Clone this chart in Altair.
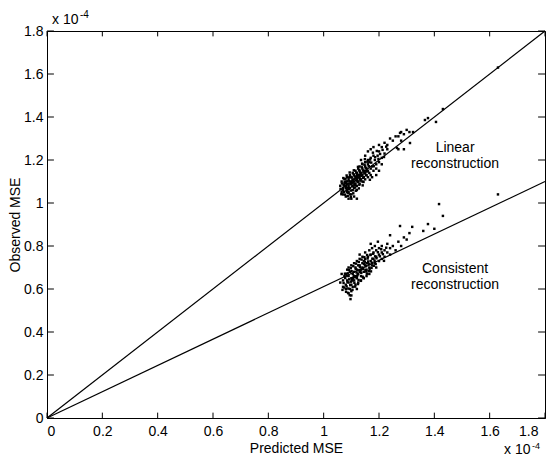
import altair as alt
import pandas as pd

# values in units of 1e-4
lin_pts = [(1.07,1.06),(1.08,1.07),(1.075,1.09),(1.09,1.08),(1.08,1.10),(1.10,1.09),(1.09,1.11),(1.085,1.05),(1.10,1.12),(1.11,1.10),
 (1.095,1.07),(1.105,1.06),(1.11,1.13),(1.12,1.11),(1.115,1.09),(1.12,1.14),(1.13,1.12),(1.125,1.10),(1.13,1.15),(1.14,1.13),
 (1.135,1.11),(1.14,1.16),(1.15,1.14),(1.145,1.12),(1.15,1.17),(1.16,1.15),(1.155,1.13),(1.16,1.18),(1.17,1.16),(1.165,1.19),
 (1.07,1.04),(1.08,1.03),(1.09,1.05),(1.10,1.04),(1.075,1.08),(1.085,1.12),(1.095,1.13),(1.105,1.14),(1.115,1.15),(1.125,1.16),
 (1.10,1.10),(1.11,1.11),(1.12,1.12),(1.13,1.13),(1.105,1.08),(1.115,1.12),(1.125,1.13),(1.135,1.14),(1.09,1.09),(1.08,1.08),
 (1.07,1.07),(1.065,1.05),(1.06,1.08),(1.065,1.10),(1.075,1.11),(1.085,1.06),(1.095,1.04),(1.10,1.02),(1.12,1.08),(1.13,1.09),
 (1.14,1.10),(1.15,1.11),(1.16,1.12),(1.17,1.13),(1.175,1.17),(1.18,1.15),(1.185,1.20),(1.19,1.18),(1.18,1.22),(1.20,1.19),
 (1.195,1.22),(1.21,1.21),(1.20,1.24),(1.22,1.23),(1.19,1.16),(1.17,1.21),(1.16,1.20),(1.15,1.19),(1.14,1.18),(1.13,1.17),
 (1.12,1.06),(1.11,1.07),(1.145,1.15),(1.155,1.16),(1.165,1.14),(1.175,1.12),(1.135,1.20),(1.15,1.22),(1.16,1.24),(1.17,1.25),
 (1.18,1.26),(1.20,1.27),(1.21,1.26),(1.22,1.28),(1.23,1.27),(1.24,1.30),(1.25,1.29),(1.23,1.25),(1.21,1.18),(1.20,1.15),
 (1.19,1.13),(1.26,1.31),(1.27,1.31),(1.28,1.33),(1.29,1.32),(1.30,1.34),(1.31,1.33),(1.28,1.29),(1.29,1.25),(1.27,1.25),
 (1.366,1.386),(1.377,1.395),(1.406,1.377),(1.431,1.437),(1.276,1.326),(1.323,1.33),(1.312,1.279),(1.265,1.256),
 (1.63,1.63),(1.09,1.02),(1.11,1.03),(1.12,1.02),
 (1.072,1.083),(1.081,1.094),(1.088,1.071),(1.093,1.102),(1.097,1.087),(1.102,1.118),(1.106,1.096),(1.112,1.124),(1.117,1.105),
 (1.121,1.131),(1.126,1.118),(1.131,1.142),(1.137,1.126),(1.142,1.151),(1.147,1.138),(1.152,1.163),(1.158,1.147),(1.163,1.171),
 (1.068,1.062),(1.074,1.052),(1.079,1.113),(1.084,1.087),(1.091,1.064),(1.096,1.123),(1.103,1.077),(1.108,1.134),(1.113,1.083),
 (1.118,1.141),(1.123,1.097),(1.128,1.153),(1.133,1.104),(1.138,1.166),(1.143,1.117),(1.148,1.178),(1.153,1.129),(1.158,1.192),
 (1.066,1.091),(1.071,1.116),(1.077,1.039),(1.083,1.128),(1.089,1.047),(1.094,1.142),(1.099,1.058),(1.104,1.106),(1.109,1.152),
 (1.114,1.072),(1.119,1.118),(1.124,1.168),(1.129,1.085),(1.134,1.131),(1.139,1.183),(1.144,1.098),(1.149,1.204),(1.154,1.148),
 (1.061,1.066),(1.064,1.041),(1.087,1.033),(1.098,1.028),(1.107,1.045),(1.116,1.057),(1.127,1.068),(1.141,1.082),(1.168,1.202),
 (1.172,1.188),(1.178,1.234),(1.186,1.213),(1.192,1.242),(1.198,1.205),(1.204,1.228),(1.213,1.247),(1.218,1.214),(1.226,1.262),
 (1.167,1.108),(1.181,1.171),(1.076,1.097),(1.082,1.058),(1.101,1.092),(1.111,1.089),(1.122,1.104),(1.132,1.111),(1.092,1.119),
 (1.086,1.101)]

con_pts = [(1.08,0.62),(1.085,0.64),(1.09,0.63),(1.09,0.66),(1.10,0.65),(1.10,0.62),(1.095,0.60),(1.105,0.67),(1.11,0.64),(1.11,0.68),
 (1.115,0.66),(1.12,0.65),(1.12,0.69),(1.125,0.67),(1.13,0.68),(1.13,0.71),(1.135,0.66),(1.14,0.70),(1.14,0.72),(1.145,0.68),
 (1.15,0.71),(1.15,0.74),(1.155,0.69),(1.16,0.72),(1.16,0.75),(1.165,0.70),(1.17,0.73),(1.17,0.76),(1.175,0.71),(1.18,0.74),
 (1.18,0.77),(1.185,0.72),(1.19,0.75),(1.19,0.78),(1.20,0.76),(1.20,0.73),(1.21,0.77),(1.21,0.74),(1.22,0.78),(1.22,0.75),
 (1.075,0.66),(1.07,0.64),(1.08,0.67),(1.085,0.69),(1.09,0.70),(1.10,0.71),(1.11,0.72),(1.12,0.73),(1.13,0.74),(1.14,0.75),
 (1.105,0.61),(1.115,0.62),(1.125,0.63),(1.135,0.64),(1.145,0.65),(1.155,0.66),(1.165,0.67),(1.09,0.58),(1.10,0.59),(1.08,0.60),
 (1.07,0.61),(1.095,0.68),(1.105,0.64),(1.115,0.70),(1.125,0.71),(1.135,0.69),(1.145,0.73),(1.155,0.72),(1.165,0.78),(1.175,0.79),
 (1.185,0.80),(1.19,0.70),(1.20,0.79),(1.21,0.80),(1.23,0.77),(1.23,0.81),(1.24,0.79),(1.25,0.80),(1.24,0.76),(1.26,0.78),
 (1.24,0.85),(1.27,0.82),(1.28,0.80),(1.276,0.893),(1.29,0.84),(1.30,0.83),(1.31,0.86),(1.32,0.889),(1.196,0.82),(1.36,0.87),
 (1.377,0.902),(1.40,0.88),(1.431,0.94),(1.417,0.995),(1.63,1.04),(1.13,0.76),(1.15,0.77),(1.17,0.81),(1.10,0.57),
 (1.12,0.60),(1.06,0.63),(1.065,0.67),
 (1.072,0.628),(1.078,0.651),(1.083,0.612),(1.087,0.673),(1.092,0.645),(1.096,0.618),(1.101,0.683),(1.106,0.652),(1.111,0.629),
 (1.116,0.694),(1.121,0.661),(1.126,0.642),(1.131,0.703),(1.136,0.675),(1.141,0.657),(1.146,0.716),(1.151,0.688),(1.156,0.671),
 (1.161,0.728),(1.166,0.694),(1.171,0.682),(1.176,0.741),(1.181,0.708),(1.186,0.752),(1.068,0.596),(1.074,0.607),(1.081,0.587),
 (1.089,0.602),(1.094,0.571),(1.099,0.634),(1.104,0.596),(1.109,0.661),(1.114,0.611),(1.119,0.677),(1.124,0.623),(1.129,0.688),
 (1.134,0.638),(1.139,0.694),(1.144,0.652),(1.149,0.727),(1.154,0.681),(1.159,0.742),(1.164,0.715),(1.169,0.758),(1.174,0.722),
 (1.179,0.764),(1.184,0.731),(1.191,0.743),(1.196,0.771),(1.203,0.752),(1.208,0.785),(1.214,0.762),(1.218,0.731),(1.226,0.792),
 (1.077,0.671),(1.084,0.662),(1.091,0.688),(1.098,0.697),(1.107,0.706),(1.117,0.718),(1.127,0.726),(1.137,0.737),(1.147,0.748),
 (1.157,0.758),(1.086,0.632),(1.102,0.641),(1.113,0.655),(1.123,0.668),(1.133,0.682),(1.143,0.694),(1.153,0.706),(1.163,0.683),
 (1.173,0.698),(1.188,0.716),(1.097,0.553),(1.088,0.582)]

line_x = [0, 1.8]
linear_line_y = [0, 1.8]
consistent_line_y = [0, 1.1]

tick_vals = [0, 0.2, 0.4, 0.6, 0.8, 1.0, 1.2, 1.4, 1.6, 1.8]

labels = [
    {"x": 1.475, "y": 1.258, "t": "Linear"},
    {"x": 1.475, "y": 1.183, "t": "reconstruction"},
    {"x": 1.475, "y": 0.695, "t": "Consistent"},
    {"x": 1.475, "y": 0.620, "t": "reconstruction"},
]

FONT = "Liberation Sans"
xs = alt.Scale(domain=[0, 1.8], nice=False, zero=False)
ys = alt.Scale(domain=[0, 1.8], nice=False, zero=False)

pts = pd.DataFrame([{"x": a, "y": b} for a, b in lin_pts + con_pts])
lines = pd.DataFrame(
    [{"x": line_x[i], "y": linear_line_y[i], "s": "lin"} for i in range(2)]
    + [{"x": line_x[i], "y": consistent_line_y[i], "s": "con"} for i in range(2)]
)

lab_expr = "datum.value == 1 ? '1' : datum.value == 0 ? '0' : format(datum.value, '.1f')"
xaxis = alt.Axis(values=tick_vals, labelExpr=lab_expr, ticks=False, grid=False, labelPadding=6,
                 labelOffset=alt.condition("datum.value > 1.75", alt.value(-7), alt.value(0)),
                 title="Predicted MSE", titlePadding=3)
yaxis = alt.Axis(values=tick_vals, labelExpr=lab_expr, ticks=False, grid=False, labelPadding=4,
                 title="Observed MSE", titlePadding=1)

line_layer = alt.Chart(lines).mark_line(color="black", strokeWidth=1.2).encode(
    x=alt.X("x:Q", scale=xs, axis=xaxis), y=alt.Y("y:Q", scale=ys, axis=yaxis), detail="s:N")

pt_layer = alt.Chart(pts).mark_square(color="black", size=6, opacity=1).encode(
    x=alt.X("x:Q", scale=xs), y=alt.Y("y:Q", scale=ys))

tl = 0.025
tk = pd.DataFrame({"v": tick_vals})
tick_b = alt.Chart(tk).mark_rule(color="black", strokeWidth=1).encode(
    x=alt.X("v:Q", scale=xs), y=alt.datum(0, scale=ys), y2=alt.datum(tl))
tick_t = alt.Chart(tk).mark_rule(color="black", strokeWidth=1).encode(
    x=alt.X("v:Q", scale=xs), y=alt.datum(1.8 - tl, scale=ys), y2=alt.datum(1.8))
tick_l = alt.Chart(tk).mark_rule(color="black", strokeWidth=1).encode(
    y=alt.Y("v:Q", scale=ys), x=alt.datum(0, scale=xs), x2=alt.datum(tl))
tick_r = alt.Chart(tk).mark_rule(color="black", strokeWidth=1).encode(
    y=alt.Y("v:Q", scale=ys), x=alt.datum(1.8 - tl, scale=xs), x2=alt.datum(1.8))

lab_layer = alt.Chart(pd.DataFrame(labels)).mark_text(font=FONT, fontSize=14, color="black", align="center", baseline="middle").encode(
    x=alt.X("x:Q", scale=xs), y=alt.Y("y:Q", scale=ys), text="t:N")

ann = pd.DataFrame([{"k": 1}])
def expo(xp, yp, sup=10, dy=6):
    a = alt.Chart(ann).mark_text(font=FONT, fontSize=14, color="black", align="left", baseline="alphabetic", text="x 10").encode(
        x=alt.value(xp), y=alt.value(yp))
    b = alt.Chart(ann).mark_text(font=FONT, fontSize=sup, color="black", align="left", baseline="alphabetic", text="-4").encode(
        x=alt.value(xp + 28), y=alt.value(yp - dy))
    return a + b

chart = alt.layer(line_layer, pt_layer, tick_b, tick_t, tick_l, tick_r, lab_layer,
                  expo(5, -7), expo(457, 387 + 36, sup=9, dy=5)).properties(
    width=498, height=387,
    autosize=alt.AutoSizeParams(type="none"),
    padding={"left": 39, "top": 23, "right": 3, "bottom": 39},
).configure_view(stroke="black", strokeWidth=1).configure_axis(
    domainColor="black", labelColor="black", titleColor="black",
    labelFont=FONT, titleFont=FONT, labelFontSize=14, titleFontSize=14,
    titleFontWeight="normal",
)

chart.save("out.html", embed_options={"renderer": "svg", "actions": False})
